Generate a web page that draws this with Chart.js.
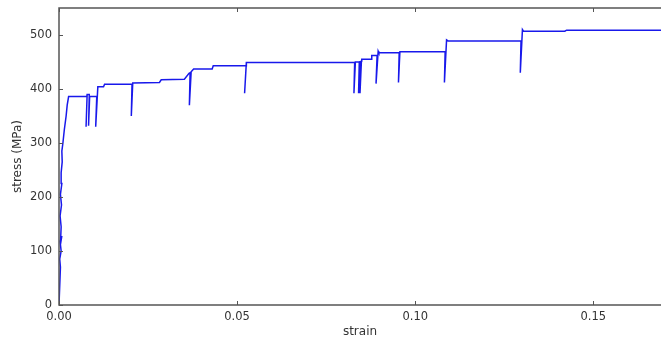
<!DOCTYPE html>
<html>
<head>
<meta charset="utf-8">
<script src="https://cdn.jsdelivr.net/npm/chart.js@4.4.3/dist/chart.umd.min.js"></script>
<style>
  html, body { margin: 0; padding: 0; background: #fff; }
  #wrap { width: 661px; height: 341px; overflow: hidden; }
</style>
</head>
<body>
<div id="wrap"><canvas id="c" width="661" height="341"></canvas></div>
<script>
// ---------- data ----------
// strain values, in path order
const strain = [
  0, 0.0004, 0.0002, 0.0006, 0.0003, 0.0008, 0.0004, 0.0006, 0.0003, 0.0007,
  0.0004, 0.0008, 0.0006, 0.0009, 0.0008, 0.0011, 0.0015, 0.0020, 0.0023, 0.0027,
  0.0078, 0.0079, 0.0076, 0.0079, 0.0085, 0.0083, 0.0086, 0.0106, 0.0103, 0.0109,
  0.0125, 0.0128, 0.0205, 0.0203, 0.0207, 0.0282, 0.0287, 0.0352, 0.0365, 0.0368,
  0.0366, 0.0371, 0.0378, 0.0430, 0.0433, 0.0525, 0.0526, 0.0521, 0.0526, 0.0830,
  0.0828, 0.0832, 0.0843, 0.0841, 0.0846, 0.0845, 0.0849, 0.0850, 0.0876, 0.0878,
  0.0893, 0.0890, 0.0896, 0.0898, 0.0955, 0.0953, 0.0957, 0.1084, 0.1082, 0.1088,
  0.1092, 0.1297, 0.1295, 0.1301, 0.1304, 0.1420, 0.1425, 0.1690
];
// stress (MPa), same order
const stress = [
  0, 70, 85, 100, 118, 128, 112, 145, 165, 185,
  205, 225, 245, 265, 285, 300, 325, 350, 370, 386,
  386, 390, 330, 390, 390, 332, 386, 386, 330, 404,
  404, 409, 409, 350, 411, 412, 417, 418, 429, 430,
  370, 432, 437, 437, 443, 443, 450, 392, 449, 449,
  392, 450, 450, 392, 452, 392, 452, 455, 455, 462,
  462, 410, 470, 467, 467, 412, 469, 469, 412, 491,
  489, 489, 430, 510, 507, 507, 509, 509
];
const xTicks = [0, 0.05, 0.10, 0.15];
const yTicks = [0, 100, 200, 300, 400, 500];

const points = strain.map((s, i) => ({ x: s, y: stress[i] }));

// ---------- matplotlib-like frame with inward ticks ----------
const frame = {
  id: "frame",
  afterDraw(chart) {
    const { ctx, chartArea: a, scales } = chart;
    ctx.save();
    ctx.strokeStyle = "#555";
    ctx.lineWidth = 1.5;
    ctx.beginPath();
    ctx.moveTo(a.right + 2, a.top);
    ctx.lineTo(a.left, a.top);
    ctx.lineTo(a.left, a.bottom);
    ctx.lineTo(a.right + 2, a.bottom);
    ctx.stroke();
    ctx.lineWidth = 1;
    ctx.beginPath();
    xTicks.forEach((v) => {
      const px = Math.round(scales.x.getPixelForValue(v)) + 0.5;
      ctx.moveTo(px, a.bottom); ctx.lineTo(px, a.bottom - 4);
      ctx.moveTo(px, a.top); ctx.lineTo(px, a.top + 4);
    });
    yTicks.forEach((v) => {
      const py = Math.round(scales.y.getPixelForValue(v)) + 0.5;
      ctx.moveTo(a.left, py); ctx.lineTo(a.left + 4, py);
    });
    ctx.stroke();
    ctx.restore();
  },
};

const tickFont = { family: "DejaVu Sans", size: 11.5 };
const titleFont = { family: "DejaVu Sans", size: 12 };

new Chart(document.getElementById("c"), {
  type: "line",
  data: {
    datasets: [
      {
        data: points,
        borderColor: "rgb(25,25,235)",
        borderWidth: 1.5,
        pointRadius: 0,
        fill: false,
        tension: 0,
      },
    ],
  },
  options: {
    responsive: false,
    animation: false,
    layout: { padding: { top: 8, right: 0, left: 0, bottom: 0 } },
    plugins: { legend: { display: false }, tooltip: { enabled: false } },
    scales: {
      x: {
        type: "linear",
        min: 0,
        max: 0.169,
        grid: { display: false, drawTicks: false },
        border: { display: false },
        afterBuildTicks: (s) => { s.ticks = xTicks.map((v) => ({ value: v })); },
        afterFit: (s) => { s.height = 36; s.paddingLeft = 0; s.paddingRight = 0; },
        ticks: {
          color: "#333",
          font: tickFont,
          padding: 5,
          maxRotation: 0,
          callback: (v) => Number(v).toFixed(2),
        },
        title: { display: true, text: "strain", color: "#333", font: titleFont, padding: { top: 0, bottom: 2 } },
      },
      y: {
        type: "linear",
        min: 0,
        max: 550,
        grid: { display: false, drawTicks: false },
        border: { display: false },
        afterBuildTicks: (s) => { s.ticks = yTicks.map((v) => ({ value: v })); },
        afterFit: (s) => { s.width = 59; s.paddingTop = 0; s.paddingBottom = 0; },
        ticks: { color: "#333", font: tickFont, padding: 7 },
        title: { display: true, text: "stress (MPa)", color: "#333", font: titleFont, padding: { top: 11, bottom: 0 } },
      },
    },
  },
  plugins: [frame],
});
</script>
</body>
</html>
